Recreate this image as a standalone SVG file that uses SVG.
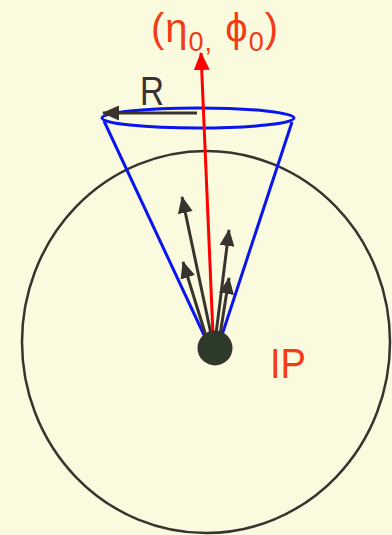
<svg xmlns="http://www.w3.org/2000/svg" width="392" height="535" viewBox="0 0 392 535">
<style>
.red{fill:#F23C17;font-family:"Liberation Sans",Arial,sans-serif}
.blk{stroke:#3a322f;stroke-width:3;fill:none}
.blue{stroke:#0a14ee;stroke-width:3;fill:none}
</style>
<defs>
<marker id="ah" markerUnits="userSpaceOnUse" markerWidth="17" markerHeight="15" refX="16" refY="7.5" orient="auto">
<path d="M0,0 L17,7.5 L0,15 Z" fill="#3a322f"/>
</marker>
<marker id="ahr" markerUnits="userSpaceOnUse" markerWidth="18" markerHeight="16" refX="17" refY="8" orient="auto">
<path d="M0,0 L18,8 L0,16 Z" fill="#ff0000"/>
</marker>
</defs>
<rect width="392" height="535" fill="#FAFBDE"/>
<g id="sphere"><ellipse cx="206" cy="342" rx="184" ry="191" fill="none" stroke="#3a322f" stroke-width="2.5"/></g>
<g id="cone">
<ellipse cx="198" cy="118" rx="96" ry="10" class="blue"/>
<line x1="104" y1="121" x2="204" y2="335" class="blue"/>
<line x1="292" y1="122" x2="222" y2="335" class="blue"/>
</g>
<g id="connectors">
<line x1="213" y1="335" x2="201" y2="53" stroke="#ff0000" stroke-width="3" marker-end="url(#ahr)"/>
<line x1="197" y1="113" x2="103" y2="113" class="blk" marker-end="url(#ah)"/>
<line x1="211" y1="334" x2="182" y2="197" class="blk" marker-end="url(#ah)"/>
<line x1="206" y1="336" x2="183" y2="262" class="blk" marker-end="url(#ah)"/>
<line x1="216" y1="334" x2="229" y2="230" class="blk" marker-end="url(#ah)"/>
<line x1="220" y1="335" x2="229" y2="278" class="blk" marker-end="url(#ah)"/>
</g>
<g id="ip"><circle cx="215" cy="348" r="16.5" fill="#2c3a29" stroke="#3a322f" stroke-width="2"/></g>
<text x="152" y="105" font-family="'Liberation Sans',Arial,sans-serif" font-size="41" fill="#3a322f" text-anchor="middle" textLength="24" lengthAdjust="spacingAndGlyphs">R</text>
<text x="270" y="378" class="red" font-size="42" textLength="36" lengthAdjust="spacingAndGlyphs">IP</text>
<text x="151" y="42" class="red" font-size="40" letter-spacing="1">(η<tspan font-size="27" dy="9">0,</tspan><tspan dy="-9"> ϕ</tspan><tspan font-size="27" dy="9">0</tspan><tspan dy="-9">)</tspan></text>
</svg>
